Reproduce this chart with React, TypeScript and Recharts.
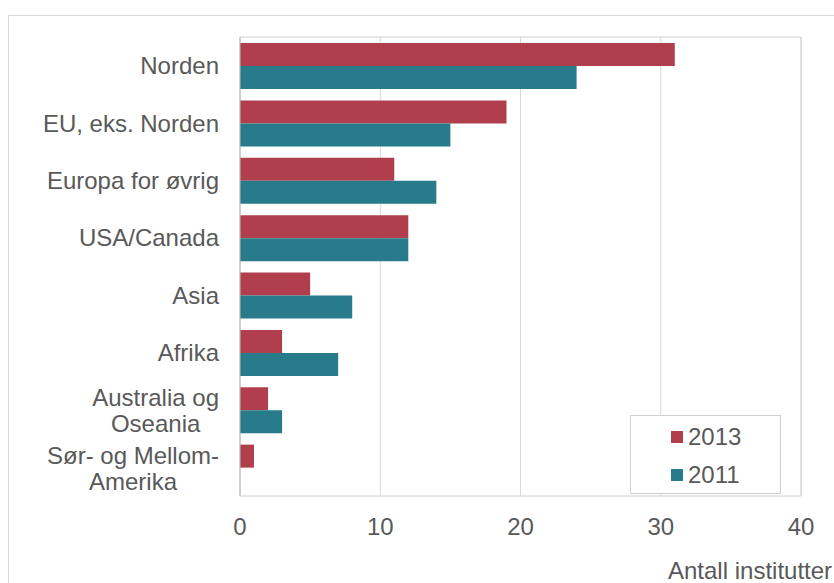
import React from "react";
import { BarChart, Bar, XAxis, YAxis, CartesianGrid, Legend, ReferenceArea } from "recharts";

const categories = [
  "Norden",
  "EU, eks. Norden",
  "Europa for øvrig",
  "USA/Canada",
  "Asia",
  "Afrika",
  "Australia og Oseania",
  "Sør- og Mellom-Amerika",
];
const categoryLines: Record<string, string[]> = {
  "Australia og Oseania": ["Australia og", "Oseania"],
  "Sør- og Mellom-Amerika": ["Sør- og Mellom-", "Amerika"],
};
const values2013 = [31, 19, 11, 12, 5, 3, 2, 1];
const values2011 = [24, 15, 14, 12, 8, 7, 3, 0];
const xTicks = [0, 10, 20, 30, 40];
const seriesNames = ["2013", "2011"];
const colors = ["#b03e4d", "#277b8a"];
const axisTitle = "Antall institutter";

const data = categories.map((c, i) => ({
  name: c,
  v2013: values2013[i],
  v2011: values2011[i],
}));

const FONT = "'Liberation Sans', Arial, sans-serif";
const FS = 24;
const TEXT = "#595959";

function measure(text: string): number {
  if (typeof document === "undefined") return text.length * 12;
  const c = document.createElement("canvas");
  const ctx = c.getContext("2d");
  if (!ctx) return text.length * 12;
  ctx.font = FS + "px 'Liberation Sans'";
  return ctx.measureText(text).width;
}

const YTick = (props: any) => {
  const { x, y, payload } = props;
  const label: string = payload.value;
  const lines = categoryLines[label];
  if (!lines) {
    return (
      <text x={x} y={y} textAnchor="end" dominantBaseline="central" fontFamily={FONT} fontSize={FS} fill={TEXT}>
        {label}
      </text>
    );
  }
  const maxW = Math.max(...lines.map(measure));
  const cx = x - maxW / 2;
  return (
    <g>
      {lines.map((l, i) => (
        <text
          key={i}
          x={cx}
          y={y - 12 + i * 26}
          textAnchor="middle"
          dominantBaseline="central"
          fontFamily={FONT}
          fontSize={FS}
          fill={TEXT}
        >
          {l}
        </text>
      ))}
    </g>
  );
};

const LegendBox = () => (
  <div
    style={{
      position: "relative",
      width: 149,
      height: 77,
      border: "1px solid #d0d0d0",
      background: "#fff",
      fontFamily: FONT,
      fontSize: FS,
      color: TEXT,
      lineHeight: "26px",
    }}
  >
    {seriesNames.map((n, i) => (
      <div key={n} style={{ position: "absolute", left: 40, top: 8 + i * 38, display: "flex", alignItems: "center", whiteSpace: "nowrap" }}>
        <span style={{ display: "inline-block", width: 12, height: 12, background: colors[i], marginRight: 5 }} />
        <span>{n}</span>
      </div>
    ))}
  </div>
);

export default function App() {
  return (
    <div style={{ position: "absolute", left: 0, top: 0, width: 834, height: 583, overflow: "hidden", background: "#fff" }}>
      <div
        style={{
          position: "absolute",
          left: 8,
          top: 15,
          width: 900,
          height: 700,
          border: "1px solid #d9d9d9",
        }}
      />
      <div style={{ position: "absolute", left: 0, top: 0 }}>
        <BarChart
          width={834}
          height={583}
          data={data}
          layout="vertical"
          margin={{ top: 37, right: 33, bottom: 57, left: 10 }}
          barGap={0}
          barSize={23}
        >
          <CartesianGrid horizontal={false} stroke="#d9d9d9" />
          <XAxis
            type="number"
            domain={[0, 40]}
            ticks={xTicks}
            axisLine={false}
            tickLine={false}
            tickMargin={16}
            tick={{ fontFamily: FONT, fontSize: FS, fill: TEXT }}
            interval={0}
          />
          <YAxis
            type="category"
            dataKey="name"
            width={230}
            axisLine={{ stroke: "#bfbfbf" }}
            tickLine={false}
            tickSize={0}
            tickMargin={21}
            tick={<YTick />}
            interval={0}
          />
          <ReferenceArea x1={0} x2={40} fill="none" stroke="#d0d0d0" ifOverflow="visible" />
          <Bar dataKey="v2013" name={seriesNames[0]} fill={colors[0]} isAnimationActive={false} />
          <Bar dataKey="v2011" name={seriesNames[1]} fill={colors[1]} isAnimationActive={false} />
          <Legend
            layout="vertical"
            align="center"
            verticalAlign="middle"
            content={<LegendBox />}
            wrapperStyle={{ position: "absolute", left: 630, top: 415, width: 151, height: 79 }}
          />
        </BarChart>
      </div>
      <div
        style={{
          position: "absolute",
          left: 668,
          top: 557,
          fontFamily: FONT,
          fontSize: FS,
          color: TEXT,
          whiteSpace: "nowrap",
        }}
      >
        {axisTitle}
      </div>
    </div>
  );
}
